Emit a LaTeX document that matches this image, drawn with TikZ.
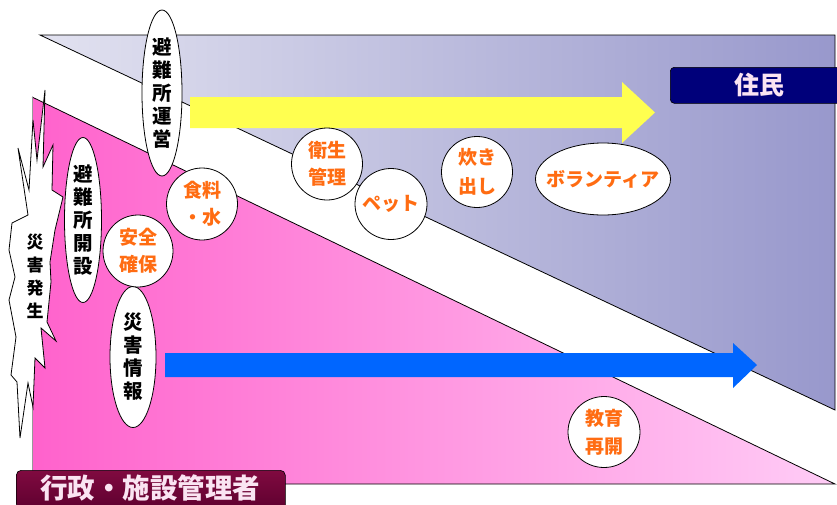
\documentclass[tikz,border=0pt]{standalone}
\usepackage{fontspec}
\newfontfamily\jp{Noto Sans CJK JP}
\usetikzlibrary{shapes.geometric}
\definecolor{orangetxt}{RGB}{255,108,18}
\definecolor{resleft}{RGB}{226,226,240}
\definecolor{resright}{RGB}{152,152,204}
\definecolor{pinkleft}{RGB}{255,98,204}
\definecolor{pinkright}{RGB}{255,204,246}
\definecolor{yarrow}{RGB}{255,255,80}
\definecolor{barrow}{RGB}{0,102,255}
\definecolor{navybox}{RGB}{0,0,122}
\definecolor{maroonA}{RGB}{128,10,64}
\definecolor{maroonB}{RGB}{92,0,46}
\definecolor{labeltxt}{RGB}{250,228,242}
\tikzset{
  bubble/.style={ellipse, draw=black, line width=0.8pt, fill=white, inner sep=0pt},
  blacktxt/.style={font=\jp\bfseries\fontsize{19.5}{23}\selectfont, text=black, align=center, inner sep=0pt},
  orangetext/.style={font=\jp\bfseries\fontsize{19}{27}\selectfont, text=orangetxt, align=center, inner sep=0pt},
  boxtxt/.style={font=\jp\bfseries\fontsize{25}{28}\selectfont, text=labeltxt, inner sep=0pt},
}
\begin{document}
\begin{tikzpicture}[x=1pt,y=-1pt]
\useasboundingbox (0,0) rectangle (837,504);
% residents triangle
\shade[left color=resleft, right color=resright] (40,35) -- (835,35) -- (835,410) -- cycle;
\draw[black, line width=0.8pt] (40,35) -- (835,35) -- (835,410) -- cycle;
% administration triangle
\shade[left color=pinkleft, right color=pinkright] (32,97) -- (835,484) -- (32,484) -- cycle;
\draw[black, line width=0.8pt] (32,97) -- (835,484) -- (32,484);
\draw[black!40, line width=0.4pt] (32,97) -- (32,484);
% arrows
\fill[yarrow] (190,97) -- (622,97) -- (622,82) -- (655,112.5) -- (622,143) -- (622,128) -- (190,128) -- cycle;
\fill[barrow] (165,353) -- (733,353) -- (733,343) -- (757,365) -- (733,388) -- (733,377) -- (165,377) -- cycle;
% explosion
\draw[fill=white, line width=0.8pt, line join=miter]
  (45,90) -- (43,167) -- (53,145) -- (52,190) -- (63,197) -- (55,230) -- (50,262) -- (51,282)
  -- (47,322) -- (56,341) -- (41,328) -- (45,368) -- (35,358) -- (33,407) -- (28,383)
  -- (20,438) -- (17,382) -- (11,375) -- (16,337) -- (9,300) -- (15,277) -- (9,250)
  -- (12,223) -- (28,215) -- (18,148) -- (29,190) -- (33,120) -- (37,160) -- cycle;
\node[blacktxt, font=\jp\bfseries\fontsize{17}{23}\selectfont] (hassei) at (35,276) {災\\害\\発\\生};
% black bubbles
\node[bubble, minimum width=40, minimum height=166] (unei) at (162,93) {};
\node[blacktxt] at (unei) {避\\難\\所\\運\\営};
\node[bubble, minimum width=37, minimum height=165] (kaisetsu) at (83,220) {};
\node[blacktxt] at (kaisetsu) {避\\難\\所\\開\\設};
\node[bubble, minimum width=46, minimum height=141] (joho) at (133,357) {};
\node[blacktxt] at (joho) {災\\害\\情\\報};
% orange bubbles
\node[bubble, minimum width=70, minimum height=72] (anzen) at (138,251) {};
\node[orangetext] at (anzen) {安全\\確保};
\node[bubble, minimum width=71, minimum height=72] (shoku) at (202,204) {};
\node[orangetext] at (shoku) {食料\\・水};
\node[bubble, minimum width=71, minimum height=72] (eisei) at (327,164) {};
\node[orangetext] at (eisei) {衛生\\管理};
\node[bubble, minimum width=72, minimum height=71] (pet) at (391,204) {};
\node[orangetext] at (pet) {ペット};
\node[bubble, minimum width=71, minimum height=71] (taki) at (477,172) {};
\node[orangetext, font=\jp\bfseries\fontsize{19}{29}\selectfont] at (taki) {炊き\\出し};
\node[bubble, minimum width=135, minimum height=72] (vol) at (603,179) {};
\node[orangetext] at (vol) {ボランティア};
\node[bubble, minimum width=72, minimum height=71] (kyoiku) at (604,432) {};
\node[orangetext, font=\jp\bfseries\fontsize{19}{28}\selectfont] at (kyoiku) {教育\\再開};
% label boxes
\node[draw=black, line width=0.6pt, fill=navybox, rounded corners=4pt, minimum width=175, minimum height=36, anchor=north west] (jumin) at (670,67) {};
\node[boxtxt] at (759,85) {住民};
\node[draw=black, line width=0.6pt, top color=maroonA, bottom color=maroonB, rounded corners=5pt, minimum width=269, minimum height=42, anchor=north west] (gyosei) at (16,470) {};
\node[boxtxt, font=\jp\bfseries\fontsize{27.5}{28}\selectfont] at (150,488) {行政・施設管理者};
\end{tikzpicture}
\end{document}
